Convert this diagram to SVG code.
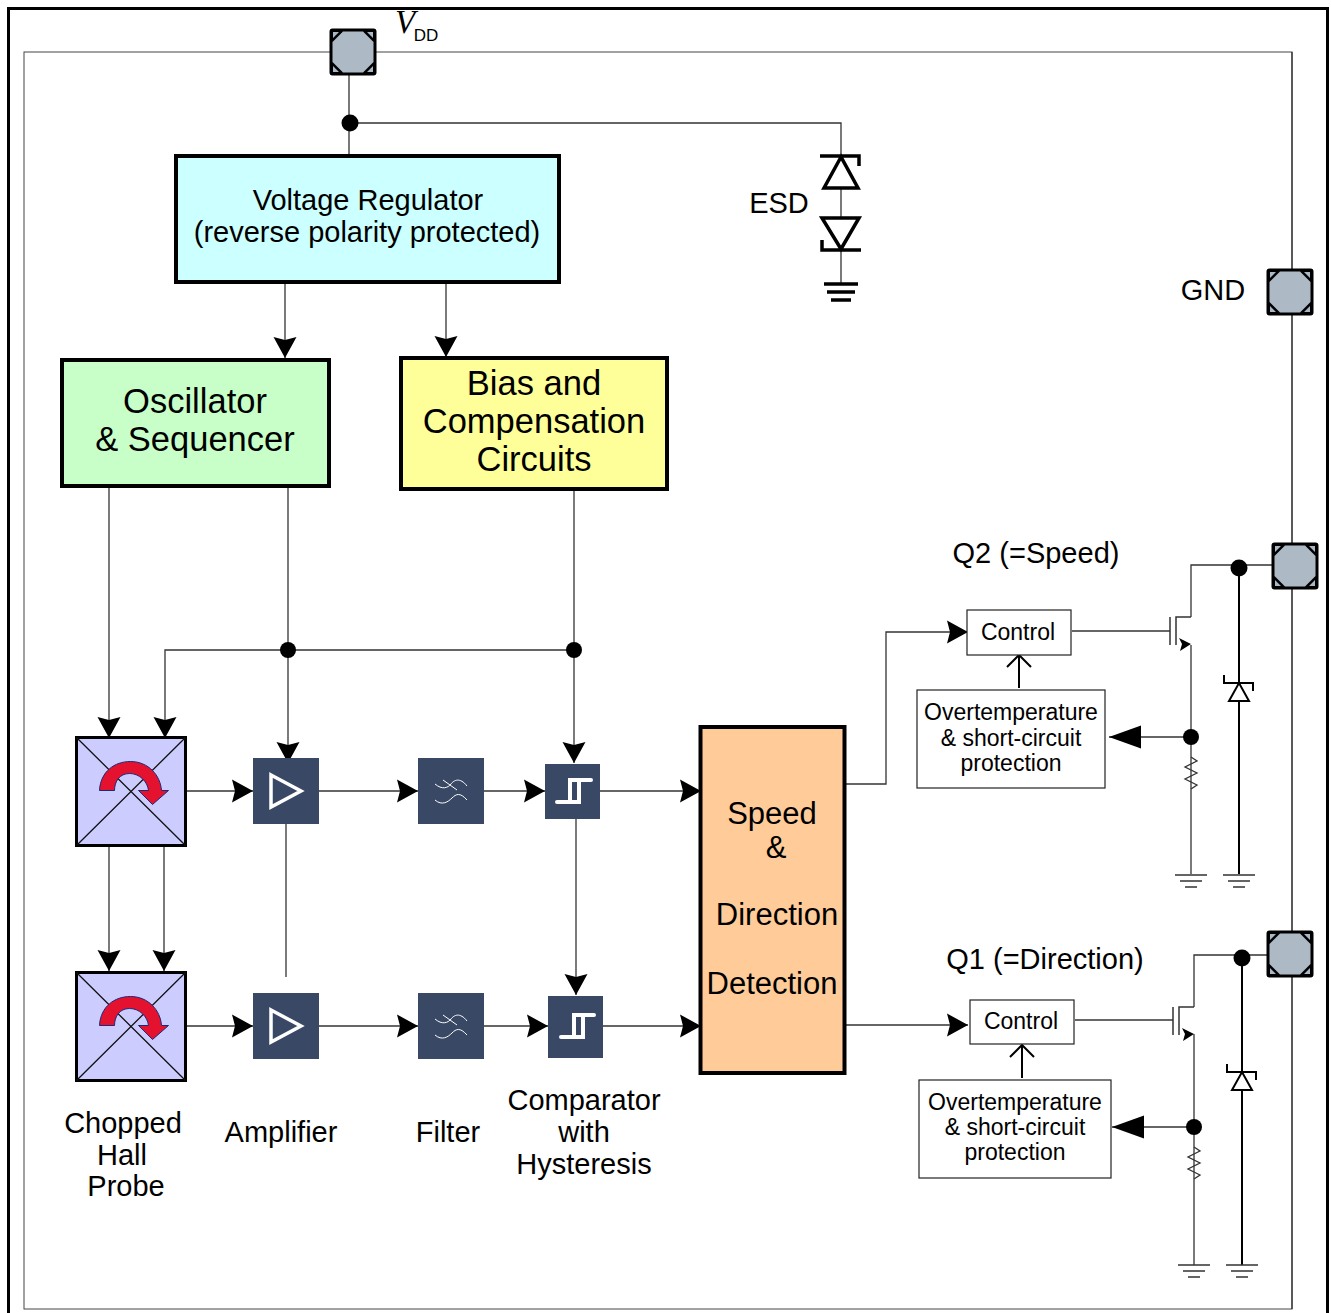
<svg xmlns="http://www.w3.org/2000/svg" xmlns:xlink="http://www.w3.org/1999/xlink" width="1331" height="1313" viewBox="0 0 1331 1313">
<style>
text{font-family:"Liberation Sans",Arial,sans-serif;fill:#000;text-anchor:middle}
.w{fill:none;stroke:#333;stroke-width:1.3}
.k{fill:none;stroke:#000;stroke-width:2}
.box{stroke:#000;stroke-width:4}
.thin{fill:#fff;stroke:#222;stroke-width:1.2}
.dark{fill:#394864}
.ic{fill:none;stroke:#fff;stroke-linejoin:miter}
.t30{font-size:29px}
.t34{font-size:34.500px}
.t22{font-size:23px}
.t29{font-size:29px}
</style>
<defs>
<marker id="a" markerUnits="userSpaceOnUse" markerWidth="24" markerHeight="24" refX="21" refY="12" orient="auto"><path d="M0 0.500L21 12L0 23.500L3 12Z" fill="#000"/></marker>
<marker id="b" markerUnits="userSpaceOnUse" markerWidth="33" markerHeight="24" refX="32" refY="12" orient="auto"><path d="M0 0.500L32 12L0 23.500Z" fill="#000"/></marker>
<g id="pad"><rect x="-22" y="-22" width="44" height="44" rx="1.5" fill="#000" stroke="#000" stroke-width="3"/><path d="M-20-20H-14L-20-14ZM20-20H14L20-14ZM-20 20H-14L-20 14ZM20 20H14L20 14Z" fill="#a9b8c6"/><path d="M-10-20.500H10L20.500-10V10L10 20.500H-10L-20.500 10V-10Z" fill="#adbac6"/></g>
<g id="hall"><rect x="0" y="0" width="109" height="108" fill="#ccf" stroke="#000" stroke-width="3"/><path d="M0 0L109 108M109 0L0 108" stroke="#111" stroke-width="1.3"/><path d="M23 53C24 34 38 24 54 24C72 24 84 38 85 53H92L76 67L62 53H72C71 44 63 36 53 36C43 36 38 44 38 53Z" fill="#e4122f" stroke="#1a2a7a" stroke-width="1"/></g>
<g id="amp"><rect x="0" y="0" width="66" height="66" class="dark"/><path d="M18 17L48 33L18 49Z" class="ic" stroke-width="3.5"/></g>
<g id="flt"><rect x="0" y="0" width="66" height="66" class="dark"/><path d="M17 26C24 32 30 30 33 26S42 19 49 28M17 42C24 48 30 44 34 40S42 34 49 42M25 22L39 32" class="ic" stroke-width="1"/></g>
<g id="gnd1"><path d="M-16 0H16M-11 6H11M-6 12H6" stroke="#333" stroke-width="1.5" fill="none"/></g>
<g id="zen"><path d="M-15-8V0H14V8M-10 18H10L0 0Z" fill="#fff" stroke="#000" stroke-width="2"/></g>
<g id="fet"><path d="M-21-14V14M-15 14V-14H0" fill="none" stroke="#333" stroke-width="1.500"/><path d="M-12 7L0 13L-11 20L-9 13Z" fill="#000"/></g>
</defs>
<g id="frame">
<rect x="8.500" y="8.500" width="1319" height="1320" fill="#fff" stroke="#000" stroke-width="3"/>
<rect x="24" y="52" width="1268" height="1257" fill="none" stroke="#444" stroke-width="1"/>
</g>
<g id="connectors">
<path class="w" d="M349 74V155M350 123H841V155M841 188V218M841 250V283"/>
<path class="w" marker-end="url(#a)" d="M285 282V358"/>
<path class="w" marker-end="url(#a)" d="M446 282V357"/>
<path class="w" marker-end="url(#a)" d="M109 486V738"/>
<path class="w" marker-end="url(#a)" d="M574 650H165V738"/>
<path class="w" marker-end="url(#a)" d="M288 486V763"/>
<path class="w" marker-end="url(#a)" d="M574 489V763"/>
<path class="w" marker-end="url(#a)" d="M186 791H253"/>
<path class="w" marker-end="url(#a)" d="M319 791H418"/>
<path class="w" marker-end="url(#a)" d="M484 791H545"/>
<path class="w" marker-end="url(#a)" d="M600 791H701"/>
<path class="w" marker-end="url(#a)" d="M109 846V971"/>
<path class="w" marker-end="url(#a)" d="M164 846V971"/>
<path class="w" d="M286 824V977"/>
<path class="w" marker-end="url(#a)" d="M576 819V995"/>
<path class="w" marker-end="url(#a)" d="M186 1026H253"/>
<path class="w" marker-end="url(#a)" d="M319 1026H418"/>
<path class="w" marker-end="url(#a)" d="M484 1026H548"/>
<path class="w" marker-end="url(#a)" d="M603 1026H701"/>
<path class="w" marker-end="url(#a)" d="M846 784H886V632H968"/>
<path class="w" marker-end="url(#a)" d="M846 1025H968"/>
<path class="w" d="M1292 52V270M1292 314V544M1292 588V932M1292 976V1309"/>
<path class="k" d="M1019 688V655M1007 667L1019 655L1031 667"/>
<path class="k" d="M1022 1078V1045M1010 1057L1022 1045L1034 1057"/>
<path class="w" d="M1072 631H1170"/>
<path class="w" d="M1075 1020H1173"/>
<!-- Q2 -->
<path class="w" d="M1273 565H1191V617M1191 645V874"/>
<path class="k" d="M1239 568V683M1239 700V874"/>
<path class="w" d="M1191 757L1197 761L1185 767L1197 773L1185 779L1197 785L1191 789"/>
<path class="w" marker-end="url(#b)" d="M1191 737H1109"/>
<!-- Q1 -->
<path class="w" d="M1268 955H1194V1007M1194 1034V1265"/>
<path class="k" d="M1242 958V1072M1242 1090V1265"/>
<path class="w" d="M1194 1147L1200 1151L1188 1157L1200 1163L1188 1169L1200 1175L1194 1179"/>
<path class="w" marker-end="url(#b)" d="M1194 1127H1112"/>
<g fill="#000"><circle cx="350" cy="123" r="8.500"/><circle cx="288" cy="650" r="8"/><circle cx="574" cy="650" r="8"/><circle cx="1239" cy="568" r="8.500"/><circle cx="1191" cy="737" r="8"/><circle cx="1242" cy="958" r="8.500"/><circle cx="1194" cy="1127" r="8"/></g>
</g>
<g id="pad-vdd"><use xlink:href="#pad" href="#pad" x="353" y="52"/>
<text x="405" y="33" font-size="33" style="font-family:'Liberation Serif',serif;font-style:italic">V</text><text x="426" y="41" font-size="17">DD</text></g>
<g id="pad-gnd"><use href="#pad" x="1290" y="292"/><text x="1213" y="300" class="t29">GND</text></g>
<g id="pad-q2"><use href="#pad" x="1295" y="566"/></g>
<g id="pad-q1"><use href="#pad" x="1290" y="954"/></g>
<g id="regulator"><rect class="box" x="176" y="156" width="383" height="126" fill="#cff"/><text x="368" y="210" class="t30">Voltage Regulator</text><text x="367" y="242" class="t30">(reverse polarity protected)</text></g>
<g id="esd"><text x="779" y="213" class="t29">ESD</text>
<path d="M820 156H859V166M841 157L824 188H858Z" fill="none" stroke="#000" stroke-width="3.500"/>
<path d="M822 218H859L841 249ZM822 240V250H861" fill="none" stroke="#000" stroke-width="3.500"/>
<path d="M824 284H858M827 292H855M831 300H851" stroke="#000" stroke-width="3.500"/></g>
<g id="oscillator"><rect class="box" x="62" y="360" width="267" height="126" fill="#c8ffc8"/><text x="195" y="413" class="t34">Oscillator</text><text x="195" y="451" class="t34">&amp; Sequencer</text></g>
<g id="bias"><rect class="box" x="401" y="358" width="266" height="131" fill="#ff9"/><text x="534" y="395" class="t34">Bias and</text><text x="534" y="433" class="t34">Compensation</text><text x="534" y="471" class="t34">Circuits</text></g>
<g id="hall-1"><use href="#hall" x="76.500" y="737.500"/></g>
<g id="hall-2"><use href="#hall" x="76.500" y="972.500"/></g>
<g id="amp-1"><use href="#amp" x="253" y="758"/></g>
<g id="amp-2"><use href="#amp" x="253" y="993"/></g>
<g id="filter-1"><use href="#flt" x="418" y="758"/></g>
<g id="filter-2"><use href="#flt" x="418" y="993"/></g>
<g id="comp-1"><rect class="dark" x="545" y="764" width="55" height="55"/><path class="ic" stroke-width="4" stroke-linecap="round" d="M557 802H579V780M570 802V780H591"/></g>
<g id="comp-2"><rect class="dark" x="548" y="996" width="55" height="62"/><path class="ic" stroke-width="4" stroke-linecap="round" d="M561 1037H583V1015M574 1037V1015H594"/></g>
<g id="detection"><rect class="box" x="700.500" y="727" width="144" height="346" fill="#fc9"/>
<text x="772" y="824" style="font-size:31px">Speed</text><text x="776" y="858" style="font-size:31px">&amp;</text><text x="777" y="925" style="font-size:31px">Direction</text><text x="772" y="994" style="font-size:31px">Detection</text></g>
<g id="control-2"><rect class="thin" x="967" y="610" width="104" height="45"/><text x="1018" y="640" class="t22">Control</text></g>
<g id="protect-2"><rect class="thin" x="917" y="690" width="188" height="98"/><text x="1011" y="720" class="t22">Overtemperature</text><text x="1011" y="746" class="t22">&amp; short-circuit</text><text x="1011" y="771" class="t22">protection</text></g>
<g id="control-1"><rect class="thin" x="970" y="1000" width="104" height="44"/><text x="1021" y="1029" class="t22">Control</text></g>
<g id="protect-1"><rect class="thin" x="919" y="1080" width="192" height="98"/><text x="1015" y="1110" class="t22">Overtemperature</text><text x="1015" y="1135" class="t22">&amp; short-circuit</text><text x="1015" y="1160" class="t22">protection</text></g>
<g id="fet-2"><use href="#fet" x="1191" y="631"/></g>
<g id="fet-1"><use href="#fet" x="1194" y="1021"/></g>
<g id="zener-2"><use href="#zen" x="1239" y="683"/></g>
<g id="zener-1"><use href="#zen" x="1242" y="1072"/></g>
<g id="grounds"><use href="#gnd1" x="1191" y="875"/><use href="#gnd1" x="1239" y="875"/><use href="#gnd1" x="1194" y="1265"/><use href="#gnd1" x="1242" y="1265"/></g>
<g id="labels">
<text x="1036" y="563" class="t29">Q2 (=Speed)</text><text x="1045" y="969" class="t29">Q1 (=Direction)</text>
<text x="123" y="1133" class="t29">Chopped</text><text x="122" y="1165" class="t29">Hall</text><text x="126" y="1196" class="t29">Probe</text>
<text x="281" y="1142" class="t29">Amplifier</text><text x="448" y="1142" class="t29">Filter</text>
<text x="584" y="1110" class="t29">Comparator</text><text x="584" y="1142" class="t29">with</text><text x="584" y="1174" class="t29">Hysteresis</text>
</g>
</svg>
